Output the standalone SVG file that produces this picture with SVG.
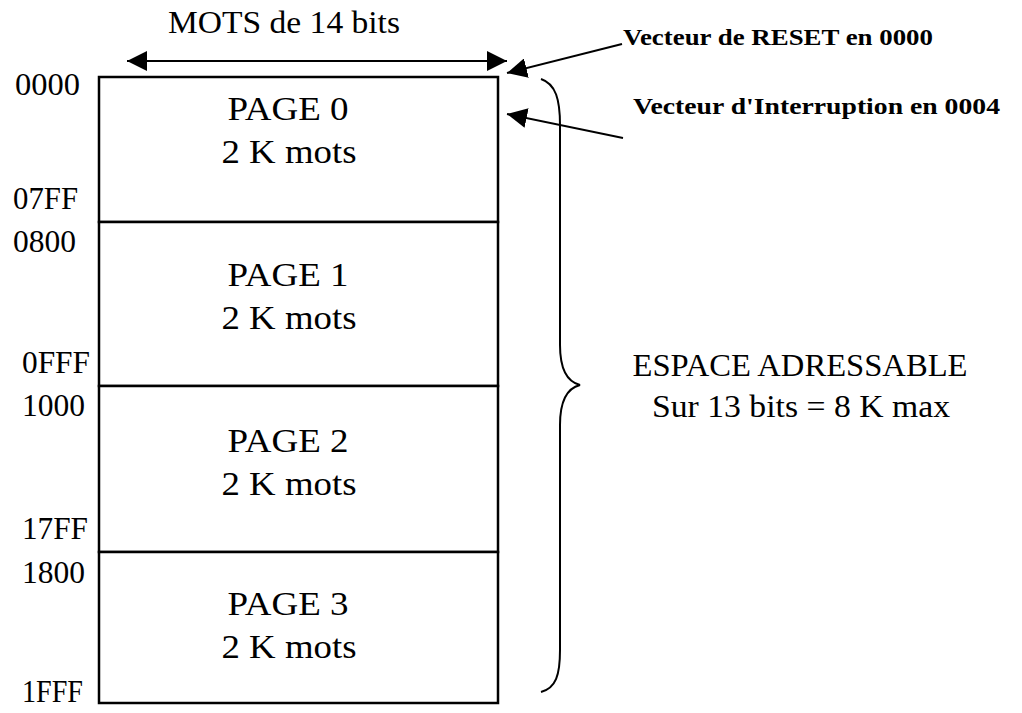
<svg xmlns="http://www.w3.org/2000/svg" width="1022" height="713" viewBox="0 0 1022 713">
<style>
.t{font-family:"Liberation Serif","Times New Roman",serif;fill:#000}
.pg{font-size:33px;text-anchor:middle}
.ad{font-size:31px}
.bd{font-size:23px;font-weight:bold}
.box{fill:#fff;stroke:#000;stroke-width:2.5}
.ln{stroke:#000;stroke-width:2;fill:none}
</style>
<defs>
<marker id="ah" markerUnits="userSpaceOnUse" markerWidth="22" markerHeight="20" refX="20" refY="10" orient="auto-start-reverse">
<path d="M0,0 L20,10 L0,20 z" fill="#000"/>
</marker>
</defs>
<rect width="1022" height="713" fill="#fff"/>
<text class="t" x="284" y="33" font-size="31" text-anchor="middle" textLength="232" lengthAdjust="spacingAndGlyphs">MOTS de 14 bits</text>
<g id="page0">
<rect class="box" x="99" y="77" width="399" height="145"/>
<text class="t pg" x="288" y="120" textLength="121" lengthAdjust="spacingAndGlyphs">PAGE 0</text>
<text class="t pg" x="289" y="163" textLength="135" lengthAdjust="spacingAndGlyphs">2 K mots</text>
</g>
<g id="page1">
<rect class="box" x="99" y="222" width="399" height="164"/>
<text class="t pg" x="288" y="286" textLength="121" lengthAdjust="spacingAndGlyphs">PAGE 1</text>
<text class="t pg" x="289" y="329" textLength="135" lengthAdjust="spacingAndGlyphs">2 K mots</text>
</g>
<g id="page2">
<rect class="box" x="99" y="386" width="399" height="166"/>
<text class="t pg" x="288" y="452" textLength="121" lengthAdjust="spacingAndGlyphs">PAGE 2</text>
<text class="t pg" x="289" y="495" textLength="135" lengthAdjust="spacingAndGlyphs">2 K mots</text>
</g>
<g id="page3">
<rect class="box" x="99" y="552" width="399" height="151"/>
<text class="t pg" x="288" y="615" textLength="121" lengthAdjust="spacingAndGlyphs">PAGE 3</text>
<text class="t pg" x="289" y="658" textLength="135" lengthAdjust="spacingAndGlyphs">2 K mots</text>
</g>
<g id="addresses">
<text class="t ad" x="15" y="95" textLength="65" lengthAdjust="spacingAndGlyphs">0000</text>
<text class="t ad" x="13" y="209" textLength="65" lengthAdjust="spacingAndGlyphs">07FF</text>
<text class="t ad" x="13" y="252" textLength="63" lengthAdjust="spacingAndGlyphs">0800</text>
<text class="t ad" x="22" y="373" textLength="68" lengthAdjust="spacingAndGlyphs">0FFF</text>
<text class="t ad" x="22" y="416" textLength="63" lengthAdjust="spacingAndGlyphs">1000</text>
<text class="t ad" x="22" y="539" textLength="66" lengthAdjust="spacingAndGlyphs">17FF</text>
<text class="t ad" x="22" y="583" textLength="63" lengthAdjust="spacingAndGlyphs">1800</text>
<text class="t ad" x="22" y="702" textLength="61" lengthAdjust="spacingAndGlyphs">1FFF</text>
</g>
<g id="connectors">
<line class="ln" x1="127" y1="61" x2="507" y2="61" marker-start="url(#ah)" marker-end="url(#ah)"/>
<line class="ln" x1="622" y1="44" x2="507" y2="73" marker-end="url(#ah)"/>
<line class="ln" x1="623" y1="138" x2="507" y2="114" marker-end="url(#ah)"/>
<path class="ln" d="M541,79 C556,84 560,100 560,125 L560,345 C560,370 568,382 580,385 C568,388 560,400 560,425 L560,650 C560,675 556,688 541,692"/>
</g>
<g id="labels">
<text class="t bd" x="623" y="45" textLength="310" lengthAdjust="spacingAndGlyphs">Vecteur de RESET en 0000</text>
<text class="t bd" x="633" y="114" textLength="367" lengthAdjust="spacingAndGlyphs">Vecteur d'Interruption en 0004</text>
<text class="t" x="800" y="376" font-size="31" text-anchor="middle" textLength="335" lengthAdjust="spacingAndGlyphs">ESPACE ADRESSABLE</text>
<text class="t" x="801" y="417" font-size="31" text-anchor="middle" textLength="298" lengthAdjust="spacingAndGlyphs">Sur 13 bits = 8 K max</text>
</g>
</svg>
